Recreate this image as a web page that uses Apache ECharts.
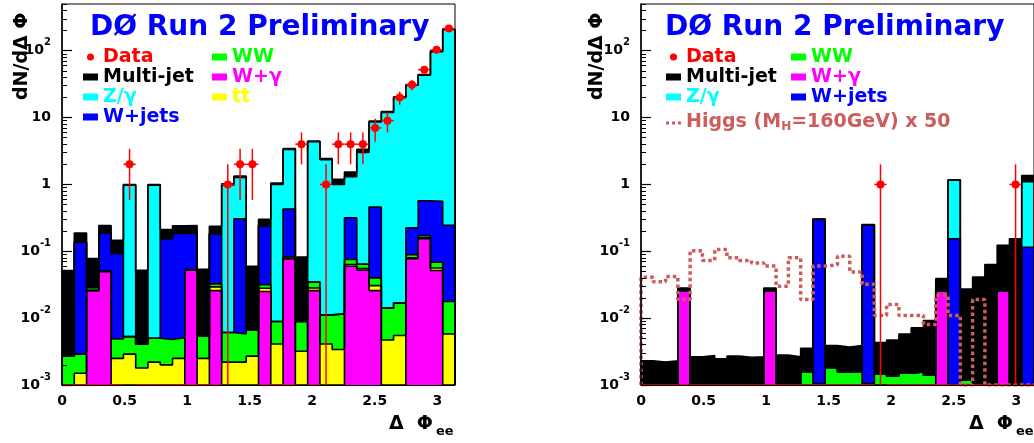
<!DOCTYPE html>
<html><head><meta charset="utf-8">
<script src="https://cdn.jsdelivr.net/npm/echarts@6/dist/echarts.min.js"></script>
<style>html,body{margin:0;padding:0;background:#fff}#c{width:1034px;height:443px}</style>
</head><body><div id="c"></div>
<script>
// ---------------- data ----------------
const NB = 32;                 // bins of width pi/32
const XMAX = Math.PI;
const YMIN = 1e-3, YMAX = 500;
const xTickLabels = [0, 0.5, 1, 1.5, 2, 2.5, 3];
const yMajorTicks = [0.001, 0.01, 0.1, 1, 10, 100];

// Left panel (per-bin expected events)
const lWgam  = [0,0,0.0258,0.050,0,0,0,0,0,0,0.052,0,0.0258,0,0,0,0.025,0,0.077,0,0.0258,0,0,0.0596,0.052,0.0258,0,0,0.0772,0.154,0.0515,0];
const lTT    = [0,0.0015,0.0002,0,0.0025,0.0029,0.0018,0.0022,0.0020,0.0025,0,0.0025,0.0036,0.0022,0.0022,0.0027,0.0030,0.0041,0.0020,0.0032,0.0025,0.0041,0.0034,0.0037,0.0030,0.0048,0.0047,0.0055,0.0028,0.0060,0.0048,0.0058];
const lWW    = [0.0027,0.0014,0.0029,0,0.0024,0.0024,0.0023,0.0028,0.0028,0.0026,0.0020,0.0029,0.0031,0.0039,0.0036,0.0040,0.0037,0.0048,0.0040,0.0057,0.0064,0.0071,0.0082,0.0122,0.0090,0.0094,0.0094,0.0113,0.0090,0.0120,0.0121,0.0119];
const lWjets = [0,0.134,0,0.138,0.088,0,0,0,0.150,0.179,0.134,0,0.150,0,0.300,0,0.208,0,0.347,0,0,0,0,0.241,0,0.417,0,0,0.135,0.398,0.492,0.227];
const lZ     = [0,0,0,0,0,0.970,0,0.970,0,0,0,0,0,0.974,0.964,0,0,0.991,2.92,0,4.32,2.34,0.988,0.984,2.94,8.14,11.9,19.9,30.3,42.4,96.4,207];
const lMJ    = [0.0487,0.051,0.0489,0.055,0.053,0.025,0.0479,0.025,0.056,0.056,0.055,0.0486,0.055,0.045,0.060,0.0529,0.060,0.050,0.10,0.0731,0.11,0.08,0.19,0.23,0.35,0.30,0.40,0.60,0.60,1.0,2.0,3.0];
const lData  = [0,0,0,0,0,2,0,0,0,0,0,0,0,1,2,2,0,0,0,4,0,1,4,4,4,7,9,20,31,52,103,215];

// Right panel
const rWgam  = [0,0,0,0.0252,0,0,0,0,0,0,0.0252,0,0,0,0,0,0,0,0,0,0,0,0,0,0.0252,0,0,0,0,0.0252,0,0];
const rWW    = [0,0,0,0,0,0,0,0,0,0,0,0,0,0.00158,0.00105,0.00182,0.00157,0.0016,0.00105,0.00148,0.00136,0.0015,0.00157,0.0014,0,0,0.00118,0.00105,0,0,0,0];
const rWjets = [0,0,0,0,0,0,0,0,0,0,0,0,0,0,0.299,0,0,0,0.246,0,0,0,0,0,0,0.154,0,0,0,0,0,0.115];
const rZ     = [0,0,0,0,0,0,0,0,0,0,0,0,0,0,0,0,0,0,0,0,0,0,0,0,0,1.0,0,0,0,0,0,0.985];
const rMJ    = [0.0023,0.0022,0.0023,0.0031,0.00265,0.00275,0.00247,0.00272,0.00259,0.00265,0.0031,0.0028,0.00265,0.00197,0.0037,0.00207,0.00213,0.00229,0.004,0.00282,0.00334,0.0043,0.00563,0.0078,0.0138,0.02,0.026,0.04,0.0632,0.0978,0.154,0.26];
const rHiggs = [0.041,0.035,0.042,0.019,0.102,0.073,0.106,0.080,0.073,0.067,0.060,0.030,0.080,0.019,0.060,0.063,0.084,0.049,0.032,0.011,0.016,0.011,0.011,0.008,0.022,0.011,0,0.019,0,0,0,0];
const rData  = [0,0,0,0,0,0,0,0,0,0,0,0,0,0,0,0,0,0,0,1,0,0,0,0,0,0,0,0,0,0,1,0];

// ---------------- style ----------------
const FONT = 'DejaVu Sans';
const C = {wgam:'#ff00ff', tt:'#ffff00', ww:'#00ff00', wjets:'#0000ff', z:'#00ffff', mj:'#000000', data:'#ff0000', higgs:'#cd5c5c'};
const HIGGS = 'Higgs (MH=160GeV) x 50';

const edges = Array.from({length: NB + 1}, (_, i) => i * XMAX / NB);

function stepPoints(vals) {
  const pts = [[0, YMIN]];
  vals.forEach((v, i) => pts.push([edges[i], Math.max(v, YMIN)]));
  pts.push([XMAX, Math.max(vals[NB - 1], YMIN)]);
  pts.push([XMAX, YMIN]);
  return pts;
}

function stackSeries(layers, xi, yi) {
  let cum = new Array(NB).fill(0);
  const cums = layers.map(l => { cum = cum.map((c, i) => c + l.vals[i]); return cum.slice(); });
  const out = [];
  for (let k = layers.length - 1; k >= 0; k--) {
    out.push({
      type: 'line', name: layers[k].name, xAxisIndex: xi, yAxisIndex: yi,
      step: 'end', symbol: 'none', showSymbol: false, silent: true,
      data: stepPoints(cums[k]), color: layers[k].color,
      itemStyle: {color: layers[k].color},
      lineStyle: {color: '#000', width: 1.6},
      areaStyle: {color: layers[k].color, opacity: 1, origin: 'start'},
      z: 2
    });
  }
  return out;
}

function dataSeries(vals, xi, yi) {
  return {
    type: 'custom', name: 'Data', xAxisIndex: xi, yAxisIndex: yi, silent: true,
    color: C.data, itemStyle: {color: C.data}, z: 4,
    data: vals.map((n, i) => [(edges[i] + edges[i + 1]) / 2, n]),
    renderItem: function (params, api) {
      const xc = api.value(0), n = api.value(1);
      const hw = XMAX / NB / 2;
      const yv = Math.max(n, YMIN);
      const pL = api.coord([xc - hw, yv]), pR = api.coord([xc + hw, yv]);
      const ch = [{type: 'line', shape: {x1: pL[0], y1: pL[1], x2: pR[0], y2: pR[1]}, style: {stroke: C.data, lineWidth: 1.5}}];
      if (n > 0) {
        const e = Math.sqrt(n);
        const t = api.coord([xc, n + e]), b = api.coord([xc, Math.max(n - e, YMIN)]);
        ch.push({type: 'line', shape: {x1: t[0], y1: t[1], x2: b[0], y2: b[1]}, style: {stroke: C.data, lineWidth: 1.5}});
        const p = api.coord([xc, n]);
        ch.push({type: 'circle', shape: {cx: p[0], cy: p[1], r: 4}, style: {fill: C.data}});
      }
      return {type: 'group', children: ch};
    }
  };
}

const minorTicks = [];
for (let d = -3; d <= 2; d++) for (let m = 2; m <= 9; m++) {
  const v = +(m * Math.pow(10, d)).toPrecision(3);
  if (v <= YMAX) minorTicks.push(v);
}

function yLabelFmt(v) {
  const e = Math.round(Math.log10(v));
  if (e === 0) return '{m|1}';
  if (e === 1) return '{m|10}';
  return '{m|10}{s|' + e + '}';
}
const yRich = {
  m: {fontFamily: FONT, fontWeight: 'bold', fontSize: 14, color: '#000', lineHeight: 26, verticalAlign: 'middle'},
  s: {fontFamily: FONT, fontWeight: 'bold', fontSize: 10, color: '#000', lineHeight: 10, verticalAlign: 'top'}
};

function xAx(gi) {
  return {type: 'value', gridIndex: gi, min: 0, max: XMAX, z: 5,
    axisLine: {show: true, onZero: false, lineStyle: {color: '#000', width: 1}},
    axisTick: {show: false}, splitLine: {show: false},
    axisLabel: {customValues: xTickLabels, formatter: v => String(v), color: '#000',
      fontFamily: FONT, fontWeight: 'bold', fontSize: 14, margin: 9}};
}
function yMajor(gi) {
  return {type: 'log', logBase: 10, gridIndex: gi, min: YMIN, max: YMAX, position: 'left', z: 5,
    axisLine: {show: true, onZero: false, lineStyle: {color: '#000', width: 1.5}},
    axisTick: {show: true, inside: true, length: 10, customValues: yMajorTicks, lineStyle: {color: '#000', width: 1.2}},
    axisLabel: {customValues: yMajorTicks, margin: 11, formatter: yLabelFmt, rich: yRich},
    splitLine: {show: false}};
}
function yMinor(gi) {
  return {type: 'log', logBase: 10, gridIndex: gi, min: YMIN, max: YMAX, position: 'left', offset: 0, z: 5,
    axisLine: {show: false},
    axisTick: {show: true, inside: true, length: 5, customValues: minorTicks, lineStyle: {color: '#000', width: 1}},
    axisLabel: {show: false}, splitLine: {show: false}};
}

const legText = {fontFamily: FONT, fontWeight: 'bold', fontSize: 19, lineHeight: 20};
function leg(left, items) {
  return {left: left, top: 47, orient: 'vertical', padding: 0, itemGap: 0, itemWidth: 15, itemHeight: 7,
    selectedMode: false, itemStyle: {borderWidth: 0},
    textStyle: Object.assign({}, legText, {
      rich: {
        m: {fontFamily: FONT, fontWeight: 'bold', fontSize: 19, lineHeight: 20, verticalAlign: 'top'},
        s: {fontFamily: FONT, fontWeight: 'bold', fontSize: 12, lineHeight: 12, verticalAlign: 'bottom', padding: [14, 0, 0, 0]}
      }}),
    formatter: name => name === HIGGS ? '{m|Higgs (M}{s|H}{m|=160GeV) x 50}' : name,
    data: items};
}
const dotsIcon = 'path://M0,0h0.01v0.01h-0.01zM14.99,6.99h0.01v0.01h-0.01zM0,2h3v3h-3zM6,2h3v3h-3zM12,2h3v3h-3z';

const titleStyle = {color: '#0000ff', fontFamily: FONT, fontWeight: 'bold', fontSize: 28};

const option = {
  animation: false,
  textStyle: {fontFamily: FONT},
  title: [
    {text: 'DØ Run 2 Preliminary', left: 90, top: 14, padding: 0, textStyle: titleStyle},
    {text: 'DØ Run 2 Preliminary', left: 665, top: 14, padding: 0, textStyle: titleStyle}
  ],
  grid: [
    {left: 62, top: 4, width: 393, height: 381, show: true, borderColor: '#000', borderWidth: 1, backgroundColor: 'transparent'},
    {left: 641, top: 4, width: 393, height: 381, show: true, borderColor: '#000', borderWidth: 1, backgroundColor: 'transparent'}
  ],
  xAxis: [xAx(0), xAx(1)],
  yAxis: [yMajor(0), yMinor(0), yMajor(1), yMinor(1)],
  legend: [
    leg(83, [
      {name: 'Data', icon: 'circle', textStyle: {color: C.data}},
      {name: 'Multi-jet', icon: 'rect', textStyle: {color: '#000'}},
      {name: 'Z/γ', icon: 'rect', textStyle: {color: C.z}},
      {name: 'W+jets', icon: 'rect', textStyle: {color: C.wjets}}]),
    leg(212, [
      {name: 'WW', icon: 'rect', textStyle: {color: C.ww}},
      {name: 'W+γ', icon: 'rect', textStyle: {color: C.wgam}},
      {name: 'tt', icon: 'rect', textStyle: {color: C.tt}}]),
    leg(666, [
      {name: 'Data', icon: 'circle', textStyle: {color: C.data}},
      {name: 'Multi-jet', icon: 'rect', textStyle: {color: '#000'}},
      {name: 'Z/γ', icon: 'rect', textStyle: {color: C.z}},
      {name: HIGGS, icon: dotsIcon, textStyle: {color: C.higgs}}]),
    leg(791, [
      {name: 'WW', icon: 'rect', textStyle: {color: C.ww}},
      {name: 'W+γ', icon: 'rect', textStyle: {color: C.wgam}},
      {name: 'W+jets', icon: 'rect', textStyle: {color: C.wjets}}])
  ],
  graphic: [
    {type: 'text', x: 433, y: 424, z: 10, style: {text: 'Δ  Φ', align: 'right', verticalAlign: 'middle', fill: '#000', font: 'bold 19px "DejaVu Sans"'}},
    {type: 'text', x: 436, y: 432, z: 10, style: {text: 'ee', align: 'left', verticalAlign: 'middle', fill: '#000', font: 'bold 13px "DejaVu Sans"'}},
    {type: 'text', x: 1013, y: 424, z: 10, style: {text: 'Δ  Φ', align: 'right', verticalAlign: 'middle', fill: '#000', font: 'bold 19px "DejaVu Sans"'}},
    {type: 'text', x: 1016, y: 432, z: 10, style: {text: 'ee', align: 'left', verticalAlign: 'middle', fill: '#000', font: 'bold 13px "DejaVu Sans"'}},
    {type: 'text', x: 22, y: 100, rotation: Math.PI / 2, z: 10, style: {text: 'dN/dΔ Φ', align: 'left', verticalAlign: 'middle', fill: '#000', font: 'bold 19px "DejaVu Sans"'}},
    {type: 'text', x: 597, y: 100, rotation: Math.PI / 2, z: 10, style: {text: 'dN/dΔ Φ', align: 'left', verticalAlign: 'middle', fill: '#000', font: 'bold 19px "DejaVu Sans"'}}
  ],
  series: [].concat(
    stackSeries([
      {name: 'W+γ', vals: lWgam, color: C.wgam},
      {name: 'tt', vals: lTT, color: C.tt},
      {name: 'WW', vals: lWW, color: C.ww},
      {name: 'W+jets', vals: lWjets, color: C.wjets},
      {name: 'Z/γ', vals: lZ, color: C.z},
      {name: 'Multi-jet', vals: lMJ, color: C.mj}], 0, 0),
    [dataSeries(lData, 0, 0)],
    stackSeries([
      {name: 'W+γ', vals: rWgam, color: C.wgam},
      {name: 'WW', vals: rWW, color: C.ww},
      {name: 'W+jets', vals: rWjets, color: C.wjets},
      {name: 'Z/γ', vals: rZ, color: C.z},
      {name: 'Multi-jet', vals: rMJ, color: C.mj}], 1, 2),
    [{type: 'line', name: HIGGS, xAxisIndex: 1, yAxisIndex: 2, step: 'end', symbol: 'none', showSymbol: false, silent: true,
      data: stepPoints(rHiggs), color: C.higgs, itemStyle: {color: C.higgs},
      lineStyle: {color: C.higgs, width: 3.5, type: [3.5, 3]}, z: 3}],
    [dataSeries(rData, 1, 2)]
  )
};

const chart = echarts.init(document.getElementById('c'), null, {renderer: 'canvas'});
chart.setOption(option);
</script></body></html>
